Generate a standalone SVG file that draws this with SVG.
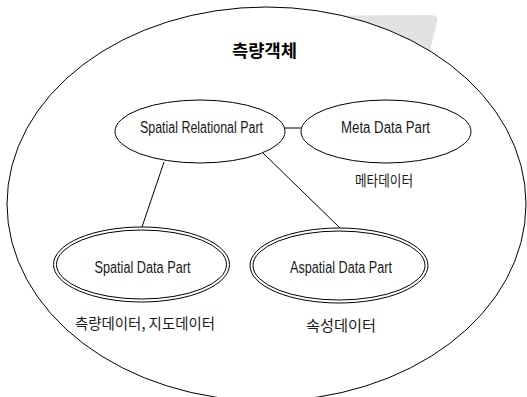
<svg xmlns="http://www.w3.org/2000/svg" width="527" height="397" viewBox="0 0 527 397">
<style>
.sh{fill:none;stroke:#000;stroke-width:1}
.lt{font-family:"Liberation Sans",Arial,sans-serif;font-size:16px;fill:#1a1a1a}
.kr{font-family:"Noto Sans CJK KR","Noto Sans",sans-serif;font-size:15px;fill:#1a1a1a}
.ttl{font-family:"Noto Sans CJK KR","Noto Sans",sans-serif;font-size:17px;font-weight:bold;fill:#000}
</style>
<rect width="527" height="397" fill="#fff"/>
<path d="M340,15.5 L432,15 Q439,16 437,22 L428,58 L340,30 Z" fill="#e2e2e2"/>
<g id="outer">
<ellipse cx="266.5" cy="204" rx="259.5" ry="197" fill="#fff" stroke="#000" stroke-width="1"/>
<text class="ttl" x="264.5" y="57" text-anchor="middle" textLength="65" lengthAdjust="spacingAndGlyphs">측량객체</text>
</g>
<g id="connectors">
<line class="sh" x1="284" y1="128" x2="301" y2="128"/>
<line class="sh" x1="164" y1="162" x2="142" y2="227"/>
<line class="sh" x1="263" y1="153" x2="340" y2="228"/>
</g>
<g id="spatial-relational">
<ellipse class="sh" cx="200" cy="131.5" rx="85" ry="31.5"/>
<text class="lt" x="201.5" y="132.5" text-anchor="middle" textLength="123" lengthAdjust="spacingAndGlyphs">Spatial Relational Part</text>
</g>
<g id="meta-data">
<ellipse class="sh" cx="386" cy="131.5" rx="85" ry="31.5"/>
<text class="lt" x="385.5" y="132.5" text-anchor="middle" textLength="89" lengthAdjust="spacingAndGlyphs">Meta Data Part</text>
<text class="kr" x="384" y="186" text-anchor="middle" textLength="58" lengthAdjust="spacingAndGlyphs">메타데이터</text>
</g>
<g id="spatial-data">
<ellipse class="sh" cx="141.5" cy="264.5" rx="88" ry="37.5"/>
<ellipse class="sh" cx="141.5" cy="264.5" rx="85" ry="34.5"/>
<text class="lt" x="142.5" y="272.5" text-anchor="middle" textLength="96" lengthAdjust="spacingAndGlyphs">Spatial Data Part</text>
<text class="kr" x="145" y="329" text-anchor="middle" textLength="140" lengthAdjust="spacingAndGlyphs">측량데이터, 지도데이터</text>
</g>
<g id="aspatial-data">
<ellipse class="sh" cx="339" cy="265.5" rx="89" ry="37.5"/>
<ellipse class="sh" cx="339" cy="265.5" rx="86" ry="34.5"/>
<text class="lt" x="341" y="272.5" text-anchor="middle" textLength="102" lengthAdjust="spacingAndGlyphs">Aspatial Data Part</text>
<text class="kr" x="341" y="331" text-anchor="middle" textLength="70" lengthAdjust="spacingAndGlyphs">속성데이터</text>
</g>
</svg>
